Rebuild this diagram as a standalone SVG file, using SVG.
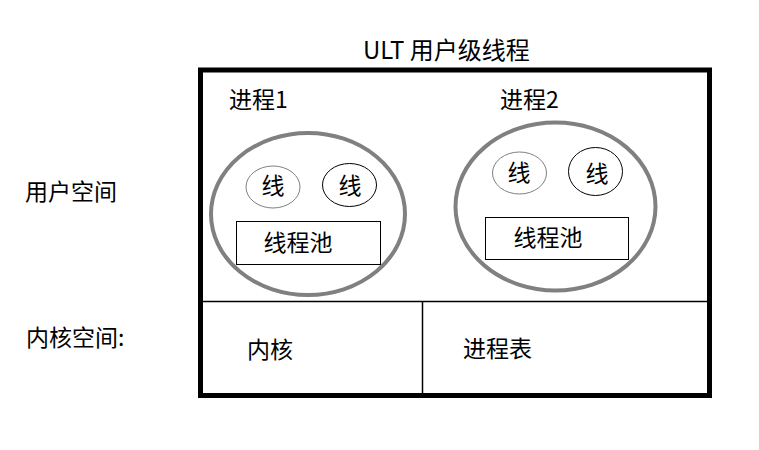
<svg xmlns="http://www.w3.org/2000/svg" width="759" height="450" viewBox="0 0 759 450">
<style>
text{font-family:"Microsoft YaHei","Noto Sans CJK SC","Noto Sans",sans-serif;font-size:23px;fill:#000}
.big{fill:none;stroke:#808080;stroke-width:4}
.thg{fill:none;stroke:#808080;stroke-width:1}
.thb{fill:none;stroke:#000;stroke-width:1}
.box{fill:none;stroke:#000;stroke-width:1}
.ln{stroke:#000;stroke-width:1.5;fill:none}
</style>
<rect width="759" height="450" fill="#fff"/>
<g id="outer">
<rect x="200.5" y="70" width="509" height="325.5" fill="none" stroke="#000" stroke-width="5"/>
</g>
<g id="dividers">
<line class="ln" x1="200" y1="301.5" x2="709" y2="301.5"/>
<line class="ln" x1="422.5" y1="301.5" x2="422.5" y2="395"/>
</g>
<text x="363" y="59" style="font-size:24px">ULT 用户级线程</text>
<text x="25" y="200">用户空间</text>
<text x="26" y="346">内核空间:</text>
<g id="process1">
<text x="229" y="108">进程1</text>
<ellipse class="big" cx="308" cy="214" rx="97" ry="81"/>
<g id="p1t1"><ellipse class="thg" cx="273" cy="187" rx="27" ry="21"/><text x="273" y="194" text-anchor="middle">线</text></g>
<g id="p1t2"><ellipse class="thb" cx="349.5" cy="185" rx="27" ry="21.5"/><text x="350" y="194" text-anchor="middle">线</text></g>
<g id="p1pool"><rect class="box" x="236.5" y="221.5" width="144" height="43"/><text x="298" y="251" text-anchor="middle">线程池</text></g>
</g>
<g id="process2">
<text x="500" y="108">进程2</text>
<ellipse class="big" cx="555.5" cy="206.5" rx="100" ry="84"/>
<g id="p2t1"><ellipse class="thg" cx="519.5" cy="173" rx="27" ry="21"/><text x="519" y="181" text-anchor="middle">线</text></g>
<g id="p2t2"><ellipse class="thb" cx="595.5" cy="171.5" rx="27" ry="24"/><text x="597" y="182" text-anchor="middle">线</text></g>
<g id="p2pool"><rect class="box" x="485.5" y="217.5" width="143" height="42"/><text x="548" y="246" text-anchor="middle">线程池</text></g>
</g>
<g id="kernel"><text x="247" y="358">内核</text></g>
<g id="ptable"><text x="463" y="357">进程表</text></g>
</svg>
